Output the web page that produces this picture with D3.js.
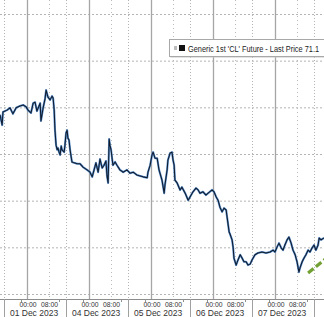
<!DOCTYPE html>
<html>
<head>
<meta charset="utf-8">
<script src="https://cdn.jsdelivr.net/npm/d3@7"></script>
<style>
  body { margin: 0; background: #fff; }
  svg { display: block; }
</style>
</head>
<body>
<script>
'use strict';

// session days along the x axis (23 trading hours each)
const dayLabels = ["01 Dec 2023", "04 Dec 2023", "05 Dec 2023", "06 Dec 2023", "07 Dec 2023", "08 Dec 2023"];
const timeLabels = ["00:00", "08:00"];
const timeOffsets = [8.5, 16.5];     // hours after session open
const minorOffsets = [6.3, 20.4];    // small ticks under the axis
const sessionLength = 23;
const priceTicks = [69, 70, 71, 72, 73, 74, 75];

// hours since the 01 Dec session open
const sessionHours = [
  -1.5, -0.7, -0.4, 1.1, 2.2, 3.3, 4.5, 5.9, 7.1, 8.2, 8.9, 10.0, 10.8, 11.5, 12.2, 13.4, 13.7, 14.5,
  15.2, 15.6, 16.3, 17.1, 17.8, 18.2, 18.6, 18.9, 19.3, 19.7, 20.0, 20.4, 20.8, 21.2, 21.5, 22.3,
  22.6, 23.0, 23.4, 23.7, 24.1, 24.5, 24.9, 25.2, 26.0, 27.1, 28.2, 29.3, 30.8, 31.9, 32.7, 33.4,
  34.1, 34.9, 35.6, 36.4, 37.1, 37.8, 38.2, 38.6, 39.0, 39.3, 39.7, 40.4, 41.2, 41.9, 43.0, 44.2,
  45.6, 46.7, 47.9, 49.3, 50.5, 51.6, 53.1, 53.4, 54.2, 54.9, 55.3, 56.0, 56.8, 57.5, 58.6, 59.4,
  59.7, 60.5, 60.8, 61.6, 62.3, 62.7, 63.1, 63.4, 64.2, 65.3, 66.0, 67.2, 68.3, 69.0, 70.1, 71.2,
  72.0, 72.7, 73.8, 74.9, 75.7, 77.2, 77.9, 78.7, 79.4, 80.1, 80.9, 81.6, 82.4, 82.7, 83.5, 83.8,
  84.6, 85.0, 85.3, 86.1, 86.8, 87.6, 88.3, 89.0, 89.8, 90.5, 91.3, 92.0, 93.1, 94.2, 95.7, 97.2,
  98.7, 99.8, 100.5, 101.3, 102.0, 102.8, 103.5, 104.2, 105.0, 105.7, 106.5, 107.2, 108.0, 108.7,
  109.4, 109.8, 110.6, 111.3, 112.0, 112.8, 113.5, 114.3, 115.0, 115.7, 116.5, 116.9, 117.6, 118.7
];
const lastPrices = [
  72.84, 72.62, 72.90, 72.94, 72.99, 72.86, 72.99, 73.03, 73.05, 73.01, 72.94, 72.88, 73.09, 73.11, 72.92, 73.09, 72.71, 72.99,
  73.18, 73.37, 73.22, 73.16, 73.24, 73.20, 72.94, 72.51, 72.19, 72.09, 72.13, 72.04, 71.98, 72.17, 72.09, 72.04,
  72.19, 72.45, 72.51, 72.34, 72.30, 72.09, 71.94, 71.83, 71.81, 71.79, 71.79, 71.72, 71.66, 71.61, 71.51, 71.66,
  71.81, 71.61, 71.89, 71.70, 71.76, 71.85, 71.53, 71.38, 72.32, 72.19, 72.09, 71.76, 71.83, 71.76, 71.66, 71.61,
  71.66, 71.59, 71.61, 71.55, 71.53, 71.51, 71.49, 71.61, 71.76, 71.98, 72.04, 71.91, 71.91, 71.66, 71.44, 71.16,
  71.34, 71.66, 71.87, 72.02, 72.04, 71.87, 71.76, 71.44, 71.38, 71.23, 71.29, 71.16, 71.01, 71.08, 71.19, 71.27,
  71.23, 71.16, 71.19, 71.12, 71.16, 71.23, 71.19, 71.08, 71.01, 70.86, 70.76, 70.84, 70.80, 70.67, 70.33, 70.29,
  70.16, 69.99, 69.77, 69.62, 69.73, 69.84, 69.77, 69.69, 69.69, 69.62, 69.64, 69.73, 69.84, 69.88, 69.90, 69.88,
  69.90, 69.94, 69.90, 70.01, 70.09, 69.99, 69.94, 70.05, 70.16, 70.22, 70.09, 69.94, 69.84, 69.69,
  69.47, 69.56, 69.69, 69.77, 69.84, 69.94, 69.90, 69.99, 70.05, 69.94, 70.05, 70.20, 70.16, 70.20
];

// green dashed trend line
const trendHours = [112.8, 124.6];
const trendPrices = [69.45, 70.0];

const legendLabel = "Generic 1st 'CL' Future - Last Price 71.1";

(function () {

  let svgContainer = "";
  const width = 324;
  const height = 317;
  const plotBottom = 299;

  window.onload = function () {
    svgContainer = d3.select('body')
      .append('svg')
      .attr('width', width)
      .attr('height', height)
      .style('font-family', '"Liberation Sans", Arial, sans-serif');

    let data = sessionHours.map((h, i) => ({ h: h, price: lastPrices[i] }));

    let xScale = d3.scaleLinear()
      .domain([-1.5, 118.7])
      .range([0, width]);

    let yScale = d3.scaleLinear()
      .domain([69, 75])
      .range([294, 14]);

    drawGrid(xScale, yScale);
    plotData(data, xScale, yScale);
    drawTimeAxis(xScale);
    makeLegend();
  }

  // dotted price lines, solid midnight lines, dotted session lines
  function drawGrid(xScale, yScale) {
    let grid = svgContainer.append('g').attr('class', 'grid');

    let yAxis = d3.axisRight(yScale)
      .tickValues(priceTicks)
      .tickSize(width)
      .tickFormat('');
    grid.append('g')
      .call(yAxis)
      .call(g => g.select('.domain').remove())
      .selectAll('line')
      .attr('stroke', '#b4b4b4')
      .attr('stroke-dasharray', '2,2');

    let sessionStarts = d3.range(dayLabels.length).map((d) => d * sessionLength);

    grid.selectAll('.session')
      .data(sessionStarts)
      .enter()
      .append('line')
      .attr('class', 'session')
      .attr('x1', (d) => Math.round(xScale(d)) + 0.5)
      .attr('x2', (d) => Math.round(xScale(d)) + 0.5)
      .attr('y1', 0)
      .attr('y2', plotBottom)
      .attr('stroke', '#b4b4b4')
      .attr('stroke-dasharray', '1,2');

    grid.selectAll('.eight')
      .data(sessionStarts)
      .enter()
      .append('line')
      .attr('class', 'eight')
      .attr('x1', (d) => Math.round(xScale(d + timeOffsets[1])) + 0.5)
      .attr('x2', (d) => Math.round(xScale(d + timeOffsets[1])) + 0.5)
      .attr('y1', 0)
      .attr('y2', plotBottom)
      .attr('stroke', '#bcbcbc')
      .attr('stroke-dasharray', '1,3');

    grid.selectAll('.midnight')
      .data(sessionStarts)
      .enter()
      .append('line')
      .attr('class', 'midnight')
      .attr('x1', (d) => Math.round(xScale(d + timeOffsets[0])) + 0.5)
      .attr('x2', (d) => Math.round(xScale(d + timeOffsets[0])) + 0.5)
      .attr('y1', 0)
      .attr('y2', plotBottom)
      .attr('stroke', '#a6a6a6')
      .attr('stroke-width', 1.3);
  }

  function plotData(data, xScale, yScale) {
    let valueLine = d3.line()
      .x((d) => xScale(d.h))
      .y((d) => yScale(d.price));

    let clip = svgContainer.append('clipPath').attr('id', 'plotClip');
    clip.append('rect')
      .attr('x', 0).attr('y', 0)
      .attr('width', width).attr('height', plotBottom);

    let g = svgContainer.append('g').attr('clip-path', 'url(#plotClip)');

    g.append('path')
      .datum(data)
      .attr('fill', 'none')
      .attr('stroke', '#5a8fcc')
      .attr('stroke-width', 2.1)
      .attr('stroke-linejoin', 'round')
      .attr('d', valueLine);

    g.append('path')
      .datum(data)
      .attr('fill', 'none')
      .attr('stroke', '#101c2e')
      .attr('stroke-width', 1.05)
      .attr('stroke-linejoin', 'round')
      .attr('d', valueLine);

    let trend = trendHours.map((h, i) => ({ h: h, price: trendPrices[i] }));
    g.append('path')
      .datum(trend)
      .attr('fill', 'none')
      .attr('stroke', '#72a032')
      .attr('stroke-width', 3.2)
      .attr('stroke-dasharray', '7,3')
      .attr('d', valueLine);
  }

  // two-row time axis: hours then day
  function drawTimeAxis(xScale) {
    let axis = svgContainer.append('g').attr('class', 'axis');

    axis.append('rect')
      .attr('x', 0).attr('y', plotBottom)
      .attr('width', width).attr('height', height - plotBottom)
      .attr('fill', '#fff');

    axis.append('line')
      .attr('x1', 0).attr('x2', width)
      .attr('y1', plotBottom + 0.5).attr('y2', plotBottom + 0.5)
      .attr('stroke', '#8c8c8c');

    let sessionStarts = d3.range(dayLabels.length).map((d) => d * sessionLength);

    axis.selectAll('.sep')
      .data(sessionStarts)
      .enter()
      .append('line')
      .attr('x1', (d) => Math.round(xScale(d)) + 0.5)
      .attr('x2', (d) => Math.round(xScale(d)) + 0.5)
      .attr('y1', plotBottom)
      .attr('y2', height)
      .attr('stroke', '#a0a0a0');

    sessionStarts.forEach(function (start) {
      minorOffsets.forEach(function (m) {
        axis.append('line')
          .attr('x1', Math.round(xScale(start + m)) + 0.5)
          .attr('x2', Math.round(xScale(start + m)) + 0.5)
          .attr('y1', plotBottom)
          .attr('y2', plotBottom + 3)
          .attr('stroke', '#909090');
      });
      // only label sessions whose text fits inside the window
      if (xScale(start + sessionLength) > width + 5) return;
      timeLabels.forEach(function (t, i) {
        axis.append('text')
          .attr('x', xScale(start + timeOffsets[i]) + 1)
          .attr('y', 307)
          .attr('text-anchor', 'middle')
          .attr('textLength', 17)
          .attr('lengthAdjust', 'spacingAndGlyphs')
          .style('font-size', '8px')
          .style('fill', '#333')
          .text(t);
      });
    });

    axis.selectAll('.day')
      .data(dayLabels.filter((d, i) => xScale((i + 1) * sessionLength) <= width + 5))
      .enter()
      .append('text')
      .attr('x', (d, i) => xScale(i * sessionLength + sessionLength / 2) - 1)
      .attr('y', 316)
      .attr('text-anchor', 'middle')
      .style('font-size', '8.5px')
      .style('fill', '#333')
      .text((d) => d);
  }

  function makeLegend() {
    let legend = svgContainer.append('g').attr('class', 'legend');

    legend.append('rect')
      .attr('x', 170.5).attr('y', 40.5)
      .attr('width', 200).attr('height', 17)
      .attr('fill', '#c8c8c8');

    legend.append('rect')
      .attr('x', 169.5).attr('y', 39.5)
      .attr('width', 200).attr('height', 17)
      .attr('fill', '#fff')
      .attr('stroke', '#a8a8a8');

    legend.append('rect')
      .attr('x', 174).attr('y', 46)
      .attr('width', 3).attr('height', 4)
      .attr('fill', '#bdbdbd');

    legend.append('rect')
      .attr('x', 179).attr('y', 45)
      .attr('width', 6).attr('height', 6)
      .attr('fill', '#111');

    // the label is squeezed horizontally so it ends at the window edge
    legend.append('text')
      .attr('transform', 'translate(188, 51.5) scale(0.82, 1)')
      .style('font-size', '9px')
      .style('fill', '#222')
      .text(legendLabel);
  }

})();
</script>
</body>
</html>
